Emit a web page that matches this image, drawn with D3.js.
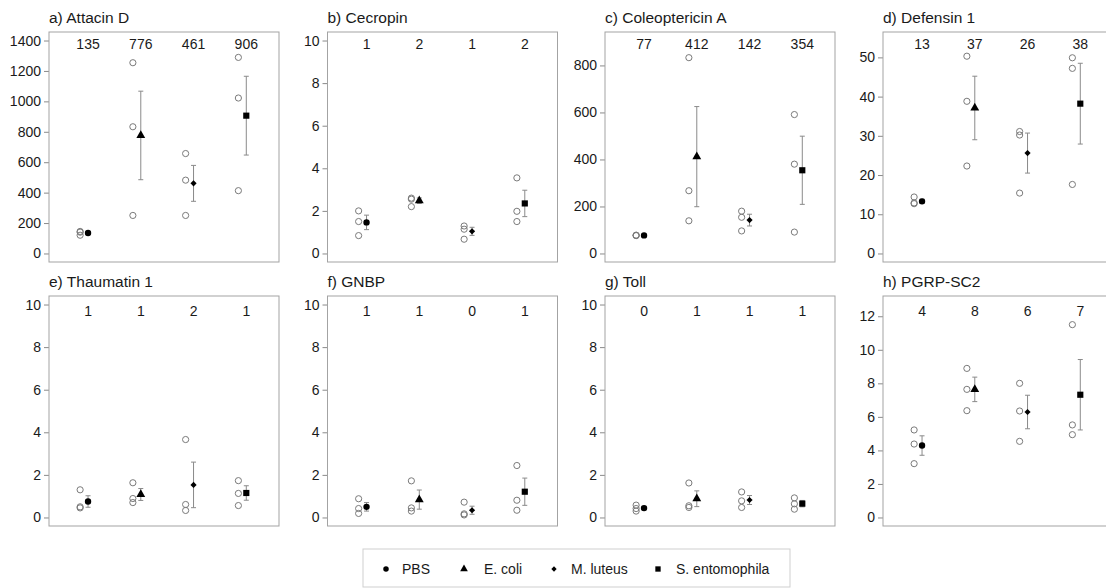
<!DOCTYPE html>
<html>
<head>
<meta charset="utf-8">
<script src="https://cdn.jsdelivr.net/npm/d3@7"></script>
<style>
  html, body { margin: 0; padding: 0; background: #fff; }
  svg { display: block; font-family: "Liberation Sans", Arial, Helvetica, sans-serif; }
</style>
</head>
<body>
<svg id="chart" width="1106" height="588"></svg>
<script>
// ---------- DATA ----------
const treatments = ["PBS", "E. coli", "M. luteus", "S. entomophila"];
const panelTitles = ["a) Attacin D", "b) Cecropin", "c) Coleoptericin A", "d) Defensin 1",
                     "e) Thaumatin 1", "f) GNBP", "g) Toll", "h) PGRP-SC2"];

// replicate values (open circles), one array of 3 per treatment
const repsAttacin   = [[145, 120, 140], [1254, 833, 250], [657, 482, 250], [1289, 1022, 413]];
const repsCecropin  = [[2.0, 1.5, 0.84], [2.6, 2.55, 2.2], [1.29, 1.14, 0.67], [3.55, 1.98, 1.5]];
const repsColeopt   = [[76, 78, 77], [833, 267, 139], [180, 154, 96], [591, 380, 91]];
const repsDefensin  = [[14.4, 12.7, 12.9], [50.3, 38.8, 22.3], [31.1, 30.2, 15.4], [49.9, 47.2, 17.6]];
const repsThaumatin = [[1.3, 0.5, 0.45], [1.63, 0.89, 0.70], [3.66, 0.61, 0.33], [1.73, 1.13, 0.56]];
const repsGNBP      = [[0.88, 0.42, 0.19], [1.72, 0.45, 0.30], [0.72, 0.17, 0.12], [2.44, 0.81, 0.34]];
const repsToll      = [[0.58, 0.42, 0.30], [1.62, 0.55, 0.47], [1.2, 0.78, 0.47], [0.92, 0.64, 0.39]];
const repsPGRP      = [[5.22, 4.38, 3.21], [8.89, 7.64, 6.37], [8.0, 6.35, 4.54], [11.5, 5.52, 4.94]];

// group means (filled markers)
const meanAttacin   = [135, 776, 461, 906];
const meanCecropin  = [1.46, 2.48, 1.04, 2.35];
const meanColeopt   = [77, 412, 142, 354];
const meanDefensin  = [13.3, 37.1, 25.6, 38.2];
const meanThaumatin = [0.75, 1.08, 1.53, 1.15];
const meanGNBP      = [0.50, 0.84, 0.34, 1.21];
const meanToll      = [0.44, 0.88, 0.82, 0.65];
const meanPGRP      = [4.29, 7.64, 6.29, 7.32];

// standard errors (error bars)
const seAttacin   = [7.6, 291, 118, 259];
const seCecropin  = [0.34, 0.13, 0.19, 0.62];
const seColeopt   = [0.6, 213, 25, 145];
const seDefensin  = [0.54, 8.1, 5.1, 10.3];
const seThaumatin = [0.27, 0.28, 1.07, 0.34];
const seGNBP      = [0.20, 0.45, 0.19, 0.64];
const seToll      = [0.08, 0.37, 0.21, 0.15];
const sePGRP      = [0.58, 0.73, 1.0, 2.1];

// rounded means printed above each group
const labAttacin   = ["135", "776", "461", "906"];
const labCecropin  = ["1", "2", "1", "2"];
const labColeopt   = ["77", "412", "142", "354"];
const labDefensin  = ["13", "37", "26", "38"];
const labThaumatin = ["1", "1", "2", "1"];
const labGNBP      = ["1", "1", "0", "1"];
const labToll      = ["0", "1", "1", "1"];
const labPGRP      = ["4", "8", "6", "7"];

// y axis upper limits and tick values
const yMaxes = [1400, 10, 906, 54.3, 10, 10, 10, 12.7];
const ticksAttacin = [0, 200, 400, 600, 800, 1000, 1200, 1400];
const ticksColeopt = [0, 200, 400, 600, 800];
const ticksDefensin = [0, 10, 20, 30, 40, 50];
const ticksTen = [0, 2, 4, 6, 8, 10];
const ticksPGRP = [0, 2, 4, 6, 8, 10, 12];

const panels = [
  { reps: repsAttacin,   mean: meanAttacin,   se: seAttacin,   lab: labAttacin,   ticks: ticksAttacin },
  { reps: repsCecropin,  mean: meanCecropin,  se: seCecropin,  lab: labCecropin,  ticks: ticksTen },
  { reps: repsColeopt,   mean: meanColeopt,   se: seColeopt,   lab: labColeopt,   ticks: ticksColeopt },
  { reps: repsDefensin,  mean: meanDefensin,  se: seDefensin,  lab: labDefensin,  ticks: ticksDefensin },
  { reps: repsThaumatin, mean: meanThaumatin, se: seThaumatin, lab: labThaumatin, ticks: ticksTen },
  { reps: repsGNBP,      mean: meanGNBP,      se: seGNBP,      lab: labGNBP,      ticks: ticksTen },
  { reps: repsToll,      mean: meanToll,      se: seToll,      lab: labToll,      ticks: ticksTen },
  { reps: repsPGRP,      mean: meanPGRP,      se: sePGRP,      lab: labPGRP,      ticks: ticksPGRP }
];

// ---------- LAYOUT ----------
const colLefts = [49, 327.5, 605, 883];
const rowTops = [32, 296];
const labelOffsets = [12, 15];
const panelW = 230, panelH = 230;
const textColor = "#1a1a1a";
const grey = "#8a8a8a";

const svg = d3.select("#chart");

function symbolPath(i, scale) {
  const s = scale || 1;
  if (i === 0) return d3.symbol().type(d3.symbolCircle).size(32 * s)();
  if (i === 1) return d3.symbol().type(d3.symbolTriangle).size(34 * s)();
  if (i === 2) return d3.symbol().type(d3.symbolSquare).size(19 * s)();
  return d3.symbol().type(d3.symbolSquare).size(38 * s)();
}
function symbolRot(i) { return i === 2 ? " rotate(45)" : ""; }

panels.forEach((p, k) => {
  const col = k % 4, row = Math.floor(k / 4);
  const x0 = colLefts[col], y0 = rowTops[row];
  const g = svg.append("g").attr("transform", `translate(${x0},${y0})`);

  const yMax = yMaxes[k];
  const y = d3.scaleLinear().domain([-0.04 * yMax, yMax * 1.04]).range([panelH, 0]);
  const x = d3.scaleLinear().domain([0.26, 4.62]).range([0, panelW]);

  // title
  svg.append("text")
    .attr("x", x0).attr("y", y0 - 9)
    .attr("font-size", 15.5).attr("fill", textColor)
    .text(panelTitles[k]);

  // y axis
  const axis = g.append("g")
    .call(d3.axisLeft(y).tickValues(p.ticks).tickSize(5).tickPadding(3).tickFormat(d3.format("d")));
  axis.select(".domain").remove();
  axis.selectAll(".tick line").attr("stroke", grey);
  axis.selectAll(".tick text").attr("font-size", 14).attr("fill", textColor)
    .attr("font-family", "Liberation Sans, Arial, sans-serif");

  // box
  g.append("rect").attr("x", 0).attr("y", 0).attr("width", panelW).attr("height", panelH)
    .attr("fill", "none").attr("stroke", "#a3a3a3").attr("stroke-width", 1);

  // count labels
  g.selectAll("text.lab").data(p.lab).join("text").attr("class", "lab")
    .attr("x", (d, i) => x(i + 1)).attr("y", labelOffsets[row])
    .attr("dy", "0.35em").attr("text-anchor", "middle")
    .attr("font-size", 14).attr("fill", textColor)
    .text(d => d);

  // replicate circles
  p.reps.forEach((vals, i) => {
    g.selectAll(null).data(vals).join("circle")
      .attr("cx", x(i + 1 - 0.15)).attr("cy", d => y(d)).attr("r", 3.1)
      .attr("fill", "none").attr("stroke", "#7a7a7a").attr("stroke-width", 1);
  });

  // error bars
  p.mean.forEach((m, i) => {
    const cx = x(i + 1), lo = y(m - p.se[i]), hi = y(m + p.se[i]);
    const eb = g.append("g").attr("stroke", grey).attr("stroke-width", 1);
    eb.append("line").attr("x1", cx).attr("x2", cx).attr("y1", lo).attr("y2", hi);
    eb.append("line").attr("x1", cx - 2.5).attr("x2", cx + 2.5).attr("y1", lo).attr("y2", lo);
    eb.append("line").attr("x1", cx - 2.5).attr("x2", cx + 2.5).attr("y1", hi).attr("y2", hi);
  });

  // mean markers
  g.selectAll("path.mean").data(p.mean).join("path").attr("class", "mean")
    .attr("d", (d, i) => symbolPath(i))
    .attr("transform", (d, i) => `translate(${x(i + 1)},${y(d)})` + symbolRot(i))
    .attr("fill", "#000");
});

// ---------- LEGEND ----------
const legendMarkerX = [386, 464, 554, 658];
const legendTextX = [402, 484, 571, 676];
const lg = svg.append("g");
lg.append("rect").attr("x", 363).attr("y", 549).attr("width", 427).attr("height", 38)
  .attr("fill", "#fff").attr("stroke", "#cfcfcf").attr("stroke-width", 1);
treatments.forEach((t, i) => {
  lg.append("path").attr("d", symbolPath(i, 0.75))
    .attr("transform", `translate(${legendMarkerX[i]},569)` + symbolRot(i))
    .attr("fill", "#000");
  lg.append("text").attr("x", legendTextX[i]).attr("y", 569).attr("dy", "0.35em")
    .attr("font-size", 14).attr("fill", textColor).text(t);
});
</script>
</body>
</html>
